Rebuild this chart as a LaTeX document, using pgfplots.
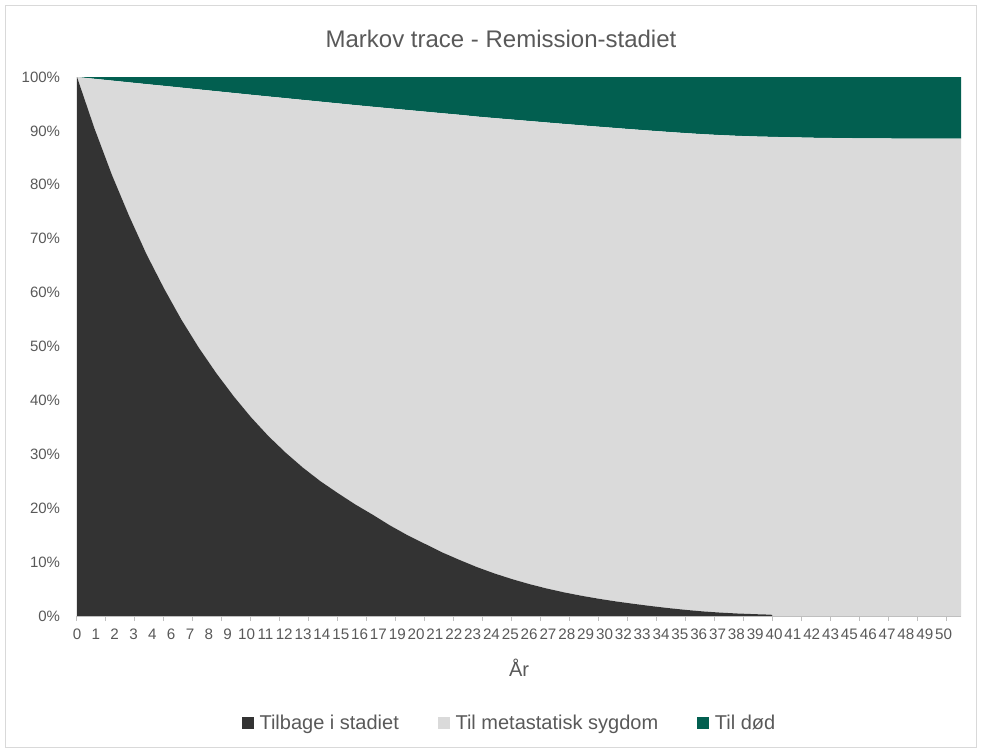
\documentclass[border=0pt]{standalone}
\usepackage{pgfplots}
\pgfplotsset{compat=1.18}
\usepackage{pgfplotstable}
\usepackage{fontspec}
\setmainfont{Liberation Sans}

\definecolor{stadie}{HTML}{333333}
\definecolor{metast}{HTML}{DADADA}
\definecolor{dod}{HTML}{025F50}
\definecolor{txt}{HTML}{595959}
\definecolor{axisgray}{HTML}{BFBFBF}
\definecolor{framegray}{HTML}{D9D9D9}

% Markov trace, monthly cycles, share of the cohort (%) in each state
\pgfplotstableread{
cycle tilbage metastatisk dod
0    100.0  0.00  0.00
12    90.5  9.17  0.33
24    81.9 17.44  0.66
36    74.2 24.81  0.99
48    67.1 31.58  1.32
60    60.8 37.56  1.64
72    55.0 43.03  1.97
84    49.8 47.90  2.30
96    45.1 52.27  2.63
108   40.8 56.24  2.96
120   36.9 59.81  3.29
132   33.4 62.99  3.61
144   30.3 65.77  3.93
156   27.5 68.25  4.25
168   25.0 70.43  4.57
180   22.8 72.31  4.89
192   20.7 74.09  5.21
204   18.8 75.68  5.52
216   16.8 77.38  5.82
228   15.0 78.88  6.12
240   13.4 80.18  6.42
252   11.8 81.48  6.72
264   10.4 82.59  7.01
276    9.07 83.59 7.34
288    7.90 84.48 7.62
300    6.86 85.25 7.89
312    5.93 85.91 8.16
324    5.11 86.46 8.43
336    4.39 86.91 8.70
348    3.76 87.28 8.96
360    3.20 87.58 9.22
372    2.70 87.83 9.47
384    2.26 88.02 9.72
396    1.85 88.19 9.96
408    1.47 88.34 10.19
420    1.14 88.45 10.41
432    0.85 88.54 10.61
444    0.63 88.59 10.78
456    0.46 88.62 10.92
468    0.34 88.63 11.03
479    0.25 88.65 11.10
480    0.00 88.89 11.11
510    0.00 88.72 11.28
540    0.00 88.62 11.38
570    0.00 88.58 11.42
610    0.00 88.55 11.45
}\trace

\begin{document}
\begin{tikzpicture}[x=0.75pt,y=-0.75pt]
\path[use as bounding box] (0,0) rectangle (982,753);
\draw[framegray, line width=0.75pt] (5.5,5.5) rectangle (976.5,747.5);
\node[font=\fontsize{18}{22}\selectfont, text=txt, anchor=base] at (501,47) {Markov trace - Remission-stadiet};
\begin{axis}[
  at={(57.75pt,-462pt)}, anchor=south west,
  scale only axis, width=663pt, height=404.25pt,
  xmin=0, xmax=610, ymin=0, ymax=100,
  stack plots=y,
  axis on top,
  axis x line*=bottom, axis y line*=left,
  x axis line style={draw=axisgray, line width=0.75pt, -},
  y axis line style={draw=none},
  /pgf/number format/assume math mode=true,
  xtick={0,13,...,598},
  xticklabels={0,1,2,3,4,6,7,8,9,10,11,12,13,14,15,16,17,19,20,21,22,23,24,25,26,27,28,29,30,32,33,34,35,36,37,38,39,40,41,42,43,45,46,47,48,49,50},
  minor xtick={0,20,...,600},
  major tick length=0pt, minor tick length=3.75pt, tick align=outside,
  minor tick style={draw=axisgray, line width=0.75pt},
  ytick={0,10,...,100},
  yticklabels={0\%,10\%,20\%,30\%,40\%,50\%,60\%,70\%,80\%,90\%,100\%},
  ytick style={draw=none},
  xticklabel style={font=\fontsize{11.4}{13}\selectfont, text=txt, anchor=north, inner sep=0pt, yshift=-9.75pt},
  yticklabel style={font=\fontsize{11.25}{13}\selectfont, text=txt, anchor=east, inner sep=0pt, xshift=-12.5pt},
  xlabel={År},
  xlabel style={font=\fontsize{15}{18}\selectfont, text=txt, at={(0.5,-0.0965)}, anchor=center},
  legend columns=3,
  legend style={at={(0.4895,-0.1985)}, anchor=center, draw=none, fill=none,
    font=\fontsize{15}{18}\selectfont, text=txt,
    /tikz/every odd column/.append style={column sep=2.5pt},
    /tikz/every even column/.append style={column sep=27pt},
    nodes={inner sep=2pt}},
  legend image code/.code={\path[#1] (0pt,-4.5pt) rectangle (9pt,4.5pt);},
]
\addplot[fill=stadie, draw=none] table[x=cycle, y=tilbage] {\trace} \closedcycle;
\addlegendentry{Tilbage i stadiet}
\addplot[fill=metast, draw=none] table[x=cycle, y=metastatisk] {\trace} \closedcycle;
\addlegendentry{Til metastatisk sygdom}
\addplot[fill=dod, draw=none] table[x=cycle, y=dod] {\trace} \closedcycle;
\addlegendentry{Til død}
\end{axis}
\end{tikzpicture}
\end{document}
